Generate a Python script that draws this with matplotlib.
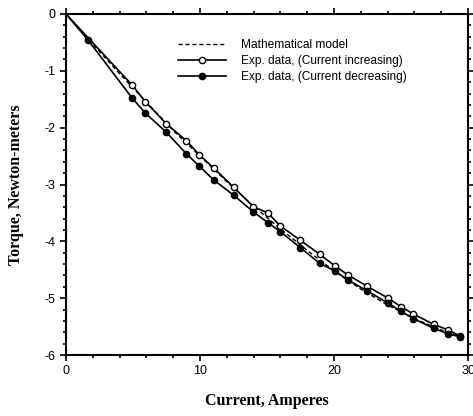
import matplotlib.pyplot as plt
from matplotlib.ticker import MultipleLocator

# Mathematical model
model_current = [0, 2, 4, 6, 8, 10, 12, 14, 16, 18, 20, 22, 24, 26, 28, 29.5]
model_torque = [0, -0.53, -1.05, -1.55, -2.05, -2.50, -2.95, -3.38, -3.78,
                -4.16, -4.52, -4.84, -5.12, -5.36, -5.56, -5.68]

# Exp. data, current increasing (open circles)
inc_current = [0, 4.94, 5.91, 7.48, 8.99, 9.96, 11.03, 12.52, 13.97, 15.06, 16.0,
               17.48, 18.94, 20.06, 21.03, 22.47, 24.04, 25.0, 25.93, 27.43,
               28.52, 29.44]
inc_torque = [0, -1.25, -1.54, -1.93, -2.23, -2.48, -2.71, -3.05, -3.39, -3.50,
              -3.73, -3.98, -4.23, -4.43, -4.59, -4.79, -5.00, -5.15, -5.28,
              -5.46, -5.56, -5.67]

# Exp. data, current decreasing (filled circles)
dec_current = [0, 1.65, 4.94, 5.91, 7.48, 8.99, 9.96, 11.03, 12.52, 13.97, 15.06,
               16.0, 17.48, 18.94, 20.06, 21.03, 22.47, 24.04, 25.0, 25.93,
               27.43, 28.52, 29.44]
dec_torque = [0, -0.46, -1.48, -1.74, -2.08, -2.46, -2.68, -2.92, -3.19, -3.48,
              -3.67, -3.83, -4.11, -4.39, -4.52, -4.68, -4.87, -5.09, -5.23,
              -5.36, -5.53, -5.63, -5.68]

x_ticks = [0, 10, 20, 30]
y_ticks = [0, -1, -2, -3, -4, -5, -6]

fig = plt.figure(figsize=(4.73, 4.16), dpi=100)
ax = fig.add_axes([66 / 473, 1 - 355 / 416, 402 / 473, 341 / 416])

ax.plot(model_current, model_torque, color='black', linestyle=(0, (3, 2)), lw=1.0,
        label='Mathematical model')
ax.plot(inc_current, inc_torque, color='black', lw=1.2, marker='o', ms=4.5,
        mfc='white', mec='black', mew=1.0, markevery=list(range(1, len(inc_current))),
        label='Exp. data, (Current increasing)')
ax.plot(dec_current, dec_torque, color='black', lw=1.2, marker='o', ms=4.5,
        mfc='black', mec='black', markevery=list(range(1, len(dec_current))),
        label='Exp. data, (Current decreasing)')

ax.set_xlim(0, 30)
ax.set_ylim(-6, 0)
ax.set_xticks(x_ticks)
ax.set_xticklabels([str(v) for v in x_ticks], family='Liberation Sans')
ax.set_yticks(y_ticks)
ax.set_yticklabels([str(v) for v in y_ticks], family='Liberation Sans')
ax.xaxis.set_minor_locator(MultipleLocator(2))
ax.yaxis.set_minor_locator(MultipleLocator(0.2))
ax.tick_params(which='both', direction='out', top=True, right=True, width=1.2)
ax.tick_params(which='major', length=4.5, labelsize=9, pad=3)
ax.tick_params(which='minor', length=2.5)
for sp in ax.spines.values():
    sp.set_linewidth(1.5)

ax.set_xlabel('Current, Amperes', family='Liberation Serif', weight='bold',
              fontsize=11.5, labelpad=11)
ax.set_ylabel('Torque, Newton-meters', family='Liberation Serif', weight='bold',
              fontsize=11.5, labelpad=15)

ax.legend(loc='upper left', bbox_to_anchor=(0.252, 0.958), frameon=False,
          prop={'family': 'Liberation Sans', 'size': 8.6}, handlelength=4.0,
          handletextpad=1.3, labelspacing=0.35)

fig.savefig('out.png', dpi=100)
